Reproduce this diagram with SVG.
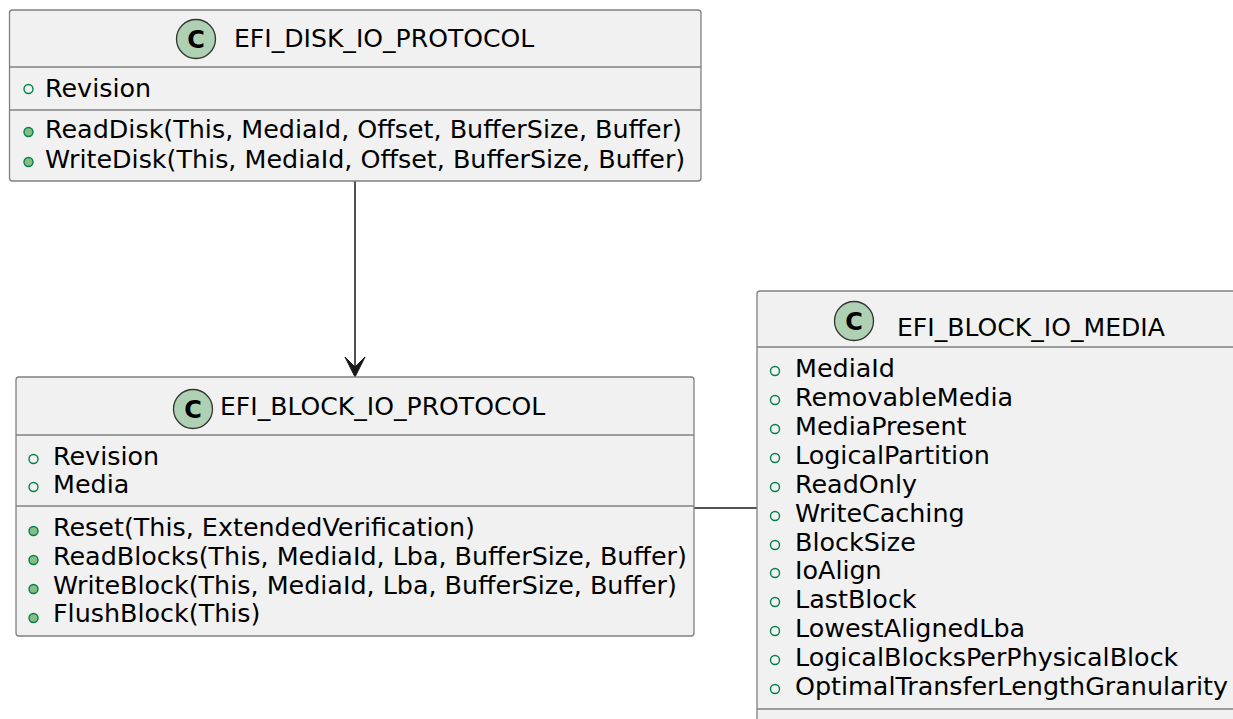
<svg xmlns="http://www.w3.org/2000/svg" width="1233" height="719" viewBox="0 0 1233 719">
<style>
.box{fill:#F1F1F1;stroke:#808080;stroke-width:1.3}
.div{stroke:#808080;stroke-width:1.3}
.t{font-family:"DejaVu Sans",sans-serif;font-size:25.1px;fill:#000}
.m{font-family:"DejaVu Sans",sans-serif;font-size:25.4px;fill:#000}
.cc{fill:#ADD1B2;stroke:#333;stroke-width:1.3}
.cl{font-family:"DejaVu Sans",sans-serif;font-size:24px;font-weight:bold;fill:#000;text-anchor:middle}
.fa{fill:none;stroke:#038048;stroke-width:1.4}
.fm{fill:#84BE84;stroke:#038048;stroke-width:1.4}
.edge{stroke:#181818;stroke-width:1.5;fill:none}
</style>
<g id="connectors">
<line class="edge" x1="355" y1="181" x2="355" y2="374"/>
<polygon points="355,377 345,357 355,367 365,357" fill="#181818" stroke="#181818" stroke-width="1"/>
<line class="edge" x1="694" y1="508" x2="757" y2="508"/>
</g>
<g id="EFI_DISK_IO_PROTOCOL">
<rect class="box" x="9.5" y="10" width="691.5" height="171" rx="3"/>
<line class="div" x1="9.5" y1="67" x2="701" y2="67"/>
<line class="div" x1="9.5" y1="110" x2="701" y2="110"/>
<circle class="cc" cx="196" cy="39" r="19.5"/>
<text class="cl" x="196" y="47.5">C</text>
<text class="t" x="234" y="47">EFI_DISK_IO_PROTOCOL</text>
<circle class="fa" cx="28.5" cy="89" r="4.5"/>
<text class="m" x="45" y="97">Revision</text>
<circle class="fm" cx="28.5" cy="132" r="4.5"/>
<text class="m" x="45" y="138">ReadDisk(This, MediaId, Offset, BufferSize, Buffer)</text>
<circle class="fm" cx="28.5" cy="162" r="4.5"/>
<text class="m" x="45" y="168">WriteDisk(This, MediaId, Offset, BufferSize, Buffer)</text>
</g>
<g id="EFI_BLOCK_IO_PROTOCOL">
<rect class="box" x="16" y="377" width="678" height="259" rx="3"/>
<line class="div" x1="16" y1="435" x2="694" y2="435"/>
<line class="div" x1="16" y1="506" x2="694" y2="506"/>
<circle class="cc" cx="193" cy="409" r="19.5"/>
<text class="cl" x="193" y="417.5">C</text>
<text class="t" x="220" y="415">EFI_BLOCK_IO_PROTOCOL</text>
<circle class="fa" cx="33.5" cy="459" r="4.5"/>
<text class="m" x="53" y="465">Revision</text>
<circle class="fa" cx="33.5" cy="487" r="4.5"/>
<text class="m" x="53" y="493">Media</text>
<circle class="fm" cx="33.5" cy="531" r="4.5"/>
<text class="m" x="53" y="536">Reset(This, ExtendedVerification)</text>
<circle class="fm" cx="33.5" cy="560" r="4.5"/>
<text class="m" x="53" y="565">ReadBlocks(This, MediaId, Lba, BufferSize, Buffer)</text>
<circle class="fm" cx="33.5" cy="589" r="4.5"/>
<text class="m" x="53" y="594">WriteBlock(This, MediaId, Lba, BufferSize, Buffer)</text>
<circle class="fm" cx="33.5" cy="618" r="4.5"/>
<text class="m" x="53" y="622">FlushBlock(This)</text>
</g>
<g id="EFI_BLOCK_IO_MEDIA">
<rect class="box" x="757" y="291" width="500" height="460" rx="3"/>
<line class="div" x1="757" y1="347" x2="1257" y2="347"/>
<line class="div" x1="757" y1="709" x2="1257" y2="709"/>
<circle class="cc" cx="854" cy="321" r="19.5"/>
<text class="cl" x="854" y="329.5">C</text>
<text class="t" x="897" y="336">EFI_BLOCK_IO_MEDIA</text>
<g>
<circle class="fa" cx="775" cy="371" r="4.5"/><text class="m" x="795" y="377">MediaId</text>
<circle class="fa" cx="775" cy="400" r="4.5"/><text class="m" x="795" y="406">RemovableMedia</text>
<circle class="fa" cx="775" cy="429" r="4.5"/><text class="m" x="795" y="435">MediaPresent</text>
<circle class="fa" cx="775" cy="458" r="4.5"/><text class="m" x="795" y="464">LogicalPartition</text>
<circle class="fa" cx="775" cy="487" r="4.5"/><text class="m" x="795" y="493">ReadOnly</text>
<circle class="fa" cx="775" cy="516" r="4.5"/><text class="m" x="795" y="522">WriteCaching</text>
<circle class="fa" cx="775" cy="545" r="4.5"/><text class="m" x="795" y="551">BlockSize</text>
<circle class="fa" cx="775" cy="573" r="4.5"/><text class="m" x="795" y="579">IoAlign</text>
<circle class="fa" cx="775" cy="602" r="4.5"/><text class="m" x="795" y="608">LastBlock</text>
<circle class="fa" cx="775" cy="631" r="4.5"/><text class="m" x="795" y="637">LowestAlignedLba</text>
<circle class="fa" cx="775" cy="660" r="4.5"/><text class="m" x="795" y="666">LogicalBlocksPerPhysicalBlock</text>
<circle class="fa" cx="775" cy="689" r="4.5"/><text class="m" x="795" y="695">OptimalTransferLengthGranularity</text>
</g>
</g>
</svg>
